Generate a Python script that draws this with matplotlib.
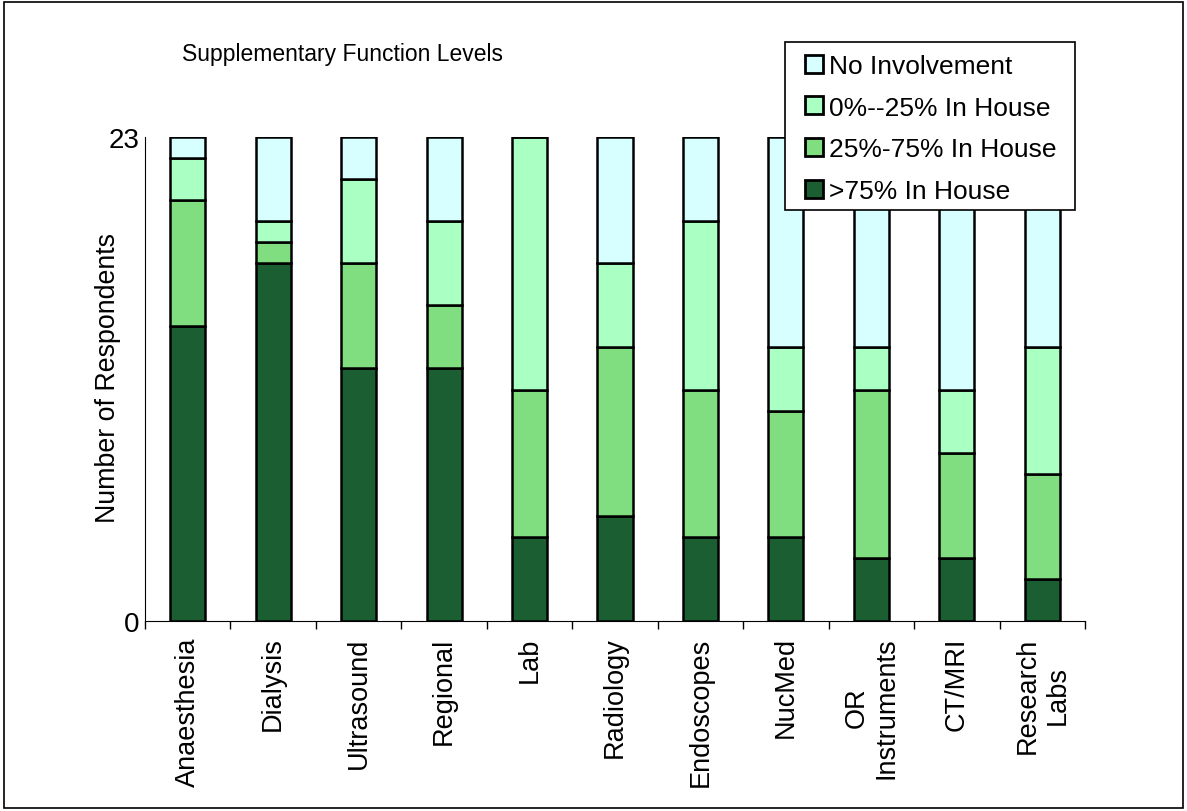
import matplotlib
matplotlib.use("Agg")
import matplotlib.pyplot as plt
import numpy as np
from matplotlib.patches import Rectangle

plt.rcParams['font.family'] = ['Liberation Sans', 'DejaVu Sans']

# Data
categories = ['Anaesthesia', 'Dialysis', 'Ultrasound', 'Regional', 'Lab', 'Radiology',
              'Endoscopes', 'NucMed', 'OR\nInstruments', 'CT/MRI', 'Research\nLabs']
over_75 = [14, 17, 12, 12, 4, 5, 4, 4, 3, 3, 2]
mid_25_75 = [6, 1, 5, 3, 7, 8, 7, 6, 8, 5, 5]
low_0_25 = [2, 1, 4, 4, 12, 4, 8, 3, 2, 3, 6]
no_involvement = [1, 4, 2, 4, 0, 6, 4, 10, 10, 12, 10]

series = [
    (over_75, '>75% In House', '#1b5e32'),
    (mid_25_75, '25%-75% In House', '#80dd80'),
    (low_0_25, '0%--25% In House', '#aaffc3'),
    (no_involvement, 'No Involvement', '#d8ffff'),
]

W, H = 1187, 812
fig = plt.figure(figsize=(W / 100, H / 100), dpi=100)
ax = fig.add_axes([145 / W, 1 - 622 / H, 940 / W, 484 / H])

x = np.arange(len(categories))
bottom = np.zeros(len(categories))
handles = []
for vals, label, color in series:
    b = ax.bar(x, vals, width=0.41, bottom=bottom, color=color,
               edgecolor='black', linewidth=1.8, label=label)
    handles.append(b)
    bottom += np.array(vals)

ax.set_xlim(-0.5, len(categories) - 0.5)
ax.set_ylim(0, 23)
ax.set_yticks([0, 23])
ax.tick_params(axis='y', length=0, labelsize=20, pad=4)

ax.set_xticks(x)
ax.set_xticklabels(categories, rotation=90, fontsize=19.5, multialignment='center')
ax.set_xticks(np.arange(len(categories) + 1) - 0.5, minor=True)
ax.tick_params(axis='x', which='major', length=0, pad=11)
ax.tick_params(axis='x', which='minor', length=6, direction='out', width=1)

ax.spines['top'].set_visible(False)
ax.spines['right'].set_visible(False)
ax.set_ylabel('Number of Respondents', fontsize=19.3)
ax.yaxis.set_label_coords(-24 / 940, 0.505)

fig.text(182 / W, 1 - 54 / H, 'Supplementary Function Levels', fontsize=16.5,
         ha='left', va='center')

# legend entries, frame drawn separately
leg = fig.legend(handles[::-1], [s[1] for s in series][::-1], loc='upper left',
                 bbox_to_anchor=(805 / W, 1 - 55 / H), fontsize=19,
                 frameon=False,
                 handlelength=0.68, handleheight=0.68, handletextpad=0.23,
                 labelspacing=0.67, borderpad=0, borderaxespad=0)
for h in leg.legend_handles:
    h.set_linewidth(2)

fig.patches.append(Rectangle((785 / W, 1 - 211 / H), 290 / W, 168 / H,
                             transform=fig.transFigure, facecolor='white',
                             edgecolor='black', linewidth=1.2, zorder=0))
leg.set_zorder(5)

fig.patches.append(Rectangle((0.003, 0.004), 0.994, 0.992, transform=fig.transFigure,
                             fill=False, edgecolor='black', linewidth=1.2))

fig.savefig('out.png', dpi=100)
